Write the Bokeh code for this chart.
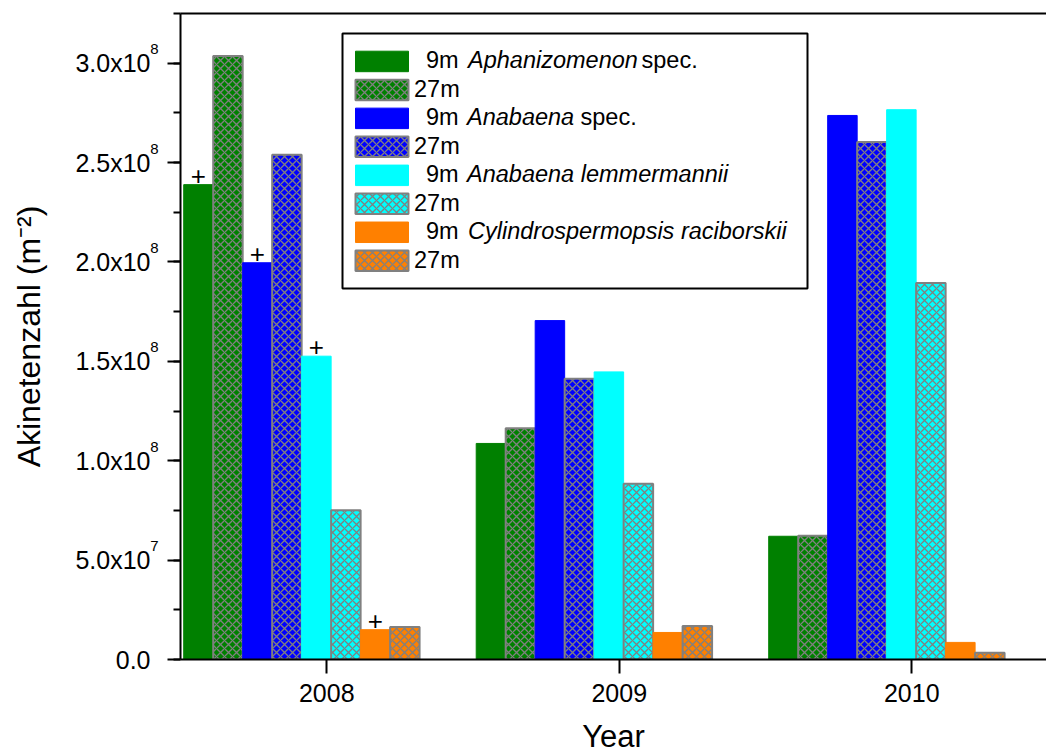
import math

from bokeh.plotting import figure
from bokeh.models import (Range1d, FixedTicker, SingleIntervalTicker, LinearAxis,
                          Label, BoxAnnotation, CustomJSTickFormatter, ColumnDataSource)
from bokeh.core.properties import value
from bokeh.embed import file_html
from bokeh.resources import INLINE

# ---------------- data ----------------
years = [2008, 2009, 2010]

aphan_9m = [2.389e8, 1.087e8, 0.620e8]
aphan_27m = [3.036e8, 1.163e8, 0.622e8]
anab_9m = [1.996e8, 1.705e8, 2.737e8]
anab_27m = [2.540e8, 1.413e8, 2.604e8]
lemm_9m = [1.526e8, 1.447e8, 2.766e8]
lemm_27m = [0.751e8, 0.884e8, 1.894e8]
cylin_9m = [0.150e8, 0.136e8, 0.086e8]
cylin_27m = [0.163e8, 0.168e8, 0.034e8]

series = [aphan_9m, aphan_27m, anab_9m, anab_27m, lemm_9m, lemm_27m, cylin_9m, cylin_27m]
colors = ["#008000", "#008000", "#0000FF", "#0000FF", "#00FFFF", "#00FFFF", "#FF8000", "#FF8000"]
hatched = [False, True, False, True, False, True, False, True]

# 9m bars of 2008 carry a "+" mark
plus_series = [0, 2, 4, 6]
plus_year_index = 0

y_ticks = [0, 0.5e8, 1.0e8, 1.5e8, 2.0e8, 2.5e8, 3.0e8]

legend_rows = [
    [("9m", "normal"), ("Aphanizomenon", "italic"), ("spec.", "normal")],
    [("27m", "normal")],
    [("9m", "normal"), ("Anabaena", "italic"), ("spec.", "normal")],
    [("27m", "normal")],
    [("9m", "normal"), ("Anabaena lemmermannii", "italic")],
    [("27m", "normal")],
    [("9m", "normal"), ("Cylindrospermopsis raciborskii", "italic")],
    [("27m", "normal")],
]
# left edge (px) of each text piece within a legend row
legend_piece_x = [
    [425.5, 467.5, 641.0],
    [413.5],
    [425.5, 466.5, 580.0],
    [413.5],
    [425.5, 466.5],
    [413.5],
    [425.5, 467.5],
    [413.5],
]

# ---------------- layout ----------------
W, H = 1046, 756
FRAME_L, FRAME_R, FRAME_T, FRAME_B = 180, 1046, 13, 659
X0, X1 = 2007.5, 2010.4607
Y0, Y1 = 0.0, 3.25e8

BAR_W = 0.1008
GROUP_START = -0.489
FONT = "Liberation Sans"
PX_Y = (Y1 - Y0) / (FRAME_B - FRAME_T)   # data units per vertical pixel


def px2x(px):
    return X0 + (px - FRAME_L) / (FRAME_R - FRAME_L) * (X1 - X0)


def py2y(py):
    return Y0 + (FRAME_B - py) * PX_Y


p = figure(width=W, height=H, output_backend="svg", toolbar_location=None,
           x_range=Range1d(X0, X1), y_range=Range1d(Y0, Y1),
           min_border_left=FRAME_L, min_border_right=0,
           min_border_top=FRAME_T, min_border_bottom=H - FRAME_B)
p.outline_line_color = None
p.background_fill_color = "white"
p.border_fill_color = "white"
p.xgrid.grid_line_color = None
p.ygrid.grid_line_color = None

# bars
for k, (vals, col, hat) in enumerate(zip(series, colors, hatched)):
    xs = [y + GROUP_START + (k + 0.5) * BAR_W for y in years]
    src = ColumnDataSource(dict(x=xs, top=vals))
    if hat:
        p.vbar(x="x", top="top", width=BAR_W, bottom=0, source=src,
               fill_color=col, line_color="#808080", line_width=2,
               hatch_pattern="x", hatch_color="#808080", hatch_scale=8,
               hatch_weight=1.3)
    else:
        p.vbar(x="x", top="top", width=BAR_W, bottom=0, source=src,
               fill_color=col, line_color=col, line_width=1)

# "+" marks above the bars
plus_x = [years[plus_year_index] + GROUP_START + (k + 0.5) * BAR_W for k in plus_series]
plus_y = [series[k][plus_year_index] + 9 * PX_Y for k in plus_series]
p.text(x=plus_x, y=plus_y, text=["+"] * len(plus_x), text_align="center",
       text_baseline="middle", text_font=value(FONT), text_font_size="26px",
       text_color="black")

# x axis
xa = p.xaxis[0]
xa.ticker = FixedTicker(ticks=years)
xa.axis_line_width = 2
xa.major_tick_line_width = 2
xa.major_tick_in = 0
xa.major_tick_out = 14
xa.minor_tick_line_color = None
xa.major_label_text_font = FONT
xa.major_label_text_font_size = "25px"
xa.major_label_text_color = "black"
xa.major_label_standoff = 10
xa.axis_label = "Year"
xa.axis_label_text_font = FONT
xa.axis_label_text_font_size = "31px"
xa.axis_label_text_font_style = "normal"
xa.axis_label_text_color = "black"
xa.axis_label_standoff = 14

# y axis: line and ticks
ya = p.yaxis[0]
ya.ticker = SingleIntervalTicker(interval=0.5e8, num_minor_ticks=2)
ya.axis_line_width = 2
ya.major_tick_line_width = 2
ya.minor_tick_line_width = 2
ya.major_tick_in = 0
ya.major_tick_out = 13
ya.minor_tick_in = 0
ya.minor_tick_out = 7
ya.major_label_standoff = 0
ya.formatter = CustomJSTickFormatter(code="return ''")


def bare_axis(**kw):
    ax = LinearAxis(axis_line_color=None, major_tick_line_color=None,
                    minor_tick_line_color=None, major_tick_out=0, major_tick_in=0,
                    minor_tick_out=0, minor_tick_in=0, major_label_text_font=FONT,
                    major_label_text_color="black", **kw)
    return ax


# exponents of the y tick labels, raised above the tick position
exp_shift = 14 * PX_Y
exp_axis = bare_axis(ticker=FixedTicker(ticks=[t + exp_shift for t in y_ticks if t > 0]),
                     major_label_standoff=9, major_label_text_font_size="15px")
exp_axis.formatter = CustomJSTickFormatter(
    args=dict(dy=exp_shift),
    code="const t = tick - dy; return String(Math.floor(Math.log10(t) + 1e-9));")
p.add_layout(exp_axis, "left")

# mantissas of the y tick labels, plus the axis title
man_axis = bare_axis(ticker=FixedTicker(ticks=y_ticks), major_label_standoff=-3,
                     major_label_text_font_size="25px")
man_axis.formatter = CustomJSTickFormatter(code="""
    if (tick === 0) { return '0.0'; }
    const e = Math.floor(Math.log10(tick) + 1e-9);
    return (tick / Math.pow(10, e)).toFixed(1) + 'x10';
""")
man_axis.axis_label = "Akinetenzahl (m\u207b\u00b2)"
man_axis.axis_label_text_font = FONT
man_axis.axis_label_text_font_size = "32px"
man_axis.axis_label_text_font_style = "normal"
man_axis.axis_label_text_color = "black"
man_axis.axis_label_standoff = 25
p.add_layout(man_axis, "left")

# top frame line
top_axis = LinearAxis(ticker=FixedTicker(ticks=[]), axis_line_width=2,
                      major_tick_out=0, major_tick_in=0, minor_tick_out=0,
                      minor_tick_in=0, major_label_standoff=0)
top_axis.formatter = CustomJSTickFormatter(code="return ''")
p.add_layout(top_axis, "above")

# legend
p.add_layout(BoxAnnotation(left=px2x(342), right=px2x(807), top=py2y(33), bottom=py2y(288),
                           fill_color="white", fill_alpha=1, line_color="black",
                           line_width=2, line_alpha=1))
ROW0, ROW_STEP, SW_H = 50.7, 28.47, 20.5
for i, (pieces, xs_px) in enumerate(zip(legend_rows, legend_piece_x)):
    top_px = ROW0 + i * ROW_STEP
    if hatched[i]:
        p.add_layout(BoxAnnotation(left=px2x(355), right=px2x(408), top=py2y(top_px),
                                   bottom=py2y(top_px + SW_H), fill_color=colors[i],
                                   fill_alpha=1, line_color="#808080", line_width=2,
                                   line_alpha=1, hatch_pattern="x", hatch_color="#808080",
                                   hatch_scale=8, hatch_weight=1.3))
    else:
        p.add_layout(BoxAnnotation(left=px2x(355), right=px2x(408), top=py2y(top_px),
                                   bottom=py2y(top_px + SW_H), fill_color=colors[i],
                                   fill_alpha=1, line_color=colors[i], line_width=1,
                                   line_alpha=1))
    mid_px = top_px + SW_H / 2 - 1
    for (txt, style), xp in zip(pieces, xs_px):
        p.add_layout(Label(x=px2x(xp), y=py2y(mid_px), text=txt, text_align="left",
                           text_baseline="middle", text_font=FONT,
                           text_font_size="23.5px", text_font_style=style,
                           text_color="black"))

open("out.html", "w").write(file_html(p, INLINE))
